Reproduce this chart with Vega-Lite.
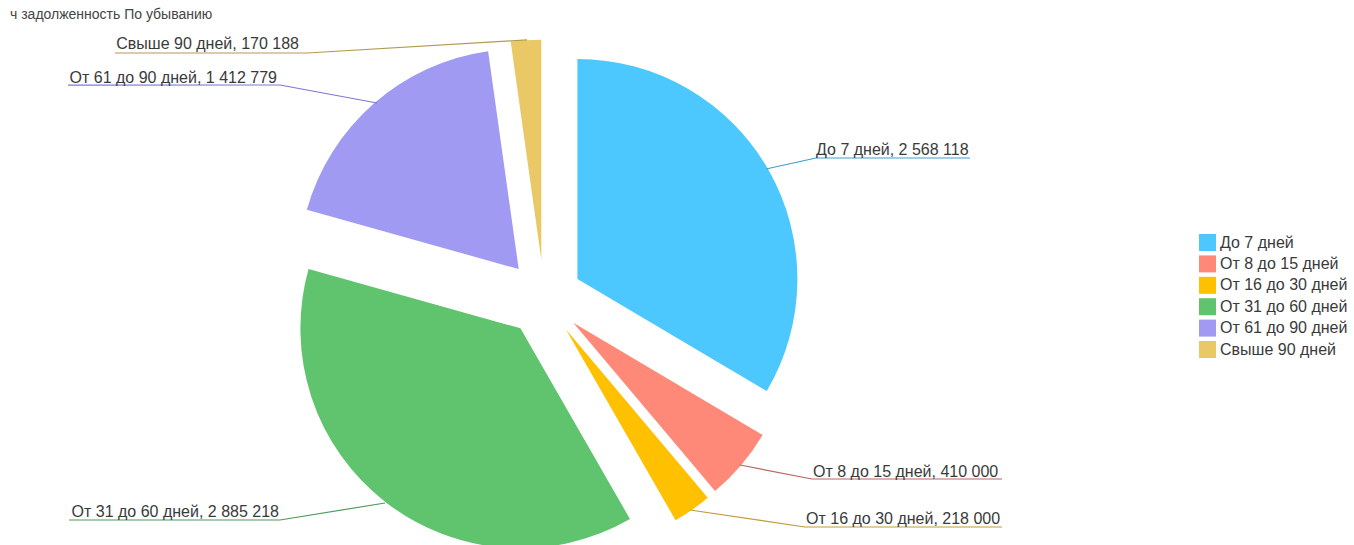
{
  "$schema": "https://vega.github.io/schema/vega-lite/v6.json",
  "autosize": {"type": "none"},
  "width": 1088,
  "height": 494,
  "padding": {"left": 0, "top": 51, "right": 266, "bottom": 0},
  "background": "#ffffff",
  "title": {"text": "ч задолженность По убыванию", "anchor": "start", "frame": "group", "orient": "top", "baseline": "alphabetic", "offset": 3, "dx": 10, "fontSize": 14, "fontWeight": "normal", "font": "Liberation Sans", "color": "#444444"},
  "data": {"values": [
    {"i": 1, "cat": "До 7 дней", "value": 2568118, "label": "До 7 дней, 2 568 118"},
    {"i": 2, "cat": "От 8 до 15 дней", "value": 410000, "label": "От 8 до 15 дней, 410 000"},
    {"i": 3, "cat": "От 16 до 30 дней", "value": 218000, "label": "От 16 до 30 дней, 218 000"},
    {"i": 4, "cat": "От 31 до 60 дней", "value": 2885218, "label": "От 31 до 60 дней, 2 885 218"},
    {"i": 5, "cat": "От 61 до 90 дней", "value": 1412779, "label": "От 61 до 90 дней, 1 412 779"},
    {"i": 6, "cat": "Свыше 90 дней", "value": 170188, "label": "Свыше 90 дней, 170 188"}
  ]},
  "transform": [{"stack": "value", "groupby": [], "sort": [{"field": "i", "order": "ascending"}], "as": ["v0", "v1"]}],
  "layer": [
    {
      "transform": [{"filter": "datum.i == 1"}],
      "mark": {"type": "arc", "radius": 220, "xOffset": 33.4, "yOffset": -19.0},
      "encoding": {
        "theta": {"field": "v0", "type": "quantitative"},
        "theta2": {"field": "v1"},
        "color": {"field": "cat", "type": "nominal", "scale": {"domain": ["До 7 дней", "От 8 до 15 дней", "От 16 до 30 дней", "От 31 до 60 дней", "От 61 до 90 дней", "Свыше 90 дней"], "range": ["#4DC8FE", "#FF8979", "#FFC000", "#60C36E", "#A09AF2", "#EAC866"]}, "legend": {"title": null, "orient": "none", "legendX": 1199, "legendY": 183, "padding": 0, "symbolType": "square", "symbolSize": 289, "symbolStrokeWidth": 0, "symbolOpacity": 1, "labelFontSize": 16, "labelFont": "Liberation Sans", "labelColor": "#3a3a3a", "labelOffset": 4, "rowPadding": 4.4}}
      }
    },
    {
      "transform": [{"filter": "datum.i == 2"}],
      "mark": {"type": "arc", "radius": 220, "xOffset": 29.3, "yOffset": 24.8},
      "encoding": {"theta": {"field": "v0", "type": "quantitative"}, "theta2": {"field": "v1"}, "color": {"field": "cat", "type": "nominal"}}
    },
    {
      "transform": [{"filter": "datum.i == 3"}],
      "mark": {"type": "arc", "radius": 220, "xOffset": 22.0, "yOffset": 31.5},
      "encoding": {"theta": {"field": "v0", "type": "quantitative"}, "theta2": {"field": "v1"}, "color": {"field": "cat", "type": "nominal"}}
    },
    {
      "transform": [{"filter": "datum.i == 4"}],
      "mark": {"type": "arc", "radius": 220, "xOffset": -23.6, "yOffset": 30.3},
      "encoding": {"theta": {"field": "v0", "type": "quantitative"}, "theta2": {"field": "v1"}, "color": {"field": "cat", "type": "nominal"}}
    },
    {
      "transform": [{"filter": "datum.i == 5"}],
      "mark": {"type": "arc", "radius": 220, "xOffset": -25.3, "yOffset": -28.9},
      "encoding": {"theta": {"field": "v0", "type": "quantitative"}, "theta2": {"field": "v1"}, "color": {"field": "cat", "type": "nominal"}}
    },
    {
      "transform": [{"filter": "datum.i == 6"}],
      "mark": {"type": "arc", "radius": 220, "xOffset": -2.7, "yOffset": -38.3},
      "encoding": {"theta": {"field": "v0", "type": "quantitative"}, "theta2": {"field": "v1"}, "color": {"field": "cat", "type": "nominal"}}
    },
    {
      "transform": [{"filter": "datum.i == 1"}],
      "mark": {"type": "arc", "filled": false, "stroke": "#3E9FCB", "strokeWidth": 1.2, "radius": 51.2, "radius2": 0, "thetaOffset": 2.3906, "theta2Offset": 2.3906, "xOffset": 272, "yOffset": -140},
      "encoding": {"theta": {"field": "v1", "type": "quantitative"}, "theta2": {"field": "v1"}}
    },
    {
      "transform": [{"filter": "datum.i == 1"}],
      "mark": {"type": "arc", "filled": false, "stroke": "#3E9FCB", "strokeWidth": 1.2, "radius": 154, "radius2": 0, "thetaOffset": -0.5346, "theta2Offset": -0.5346, "xOffset": 272, "yOffset": -140},
      "encoding": {"theta": {"field": "v1", "type": "quantitative"}, "theta2": {"field": "v1"}}
    },
    {
      "transform": [{"filter": "datum.i == 2"}],
      "mark": {"type": "arc", "filled": false, "stroke": "#B8665E", "strokeWidth": 1.2, "radius": 73.3, "radius2": 0, "thetaOffset": 2.4628, "theta2Offset": 2.4628, "xOffset": 268, "yOffset": 181},
      "encoding": {"theta": {"field": "v1", "type": "quantitative"}, "theta2": {"field": "v1"}}
    },
    {
      "transform": [{"filter": "datum.i == 2"}],
      "mark": {"type": "arc", "filled": false, "stroke": "#B8665E", "strokeWidth": 1.2, "radius": 190, "radius2": 0, "thetaOffset": -0.8707, "theta2Offset": -0.8707, "xOffset": 268, "yOffset": 181},
      "encoding": {"theta": {"field": "v1", "type": "quantitative"}, "theta2": {"field": "v1"}}
    },
    {
      "transform": [{"filter": "datum.i == 3"}],
      "mark": {"type": "arc", "filled": false, "stroke": "#C29A3E", "strokeWidth": 1.2, "radius": 116.2, "radius2": 0, "thetaOffset": 2.2388, "theta2Offset": 2.2388, "xOffset": 261, "yOffset": 229},
      "encoding": {"theta": {"field": "v1", "type": "quantitative"}, "theta2": {"field": "v1"}}
    },
    {
      "transform": [{"filter": "datum.i == 3"}],
      "mark": {"type": "arc", "filled": false, "stroke": "#C29A3E", "strokeWidth": 1.2, "radius": 197, "radius2": 0, "thetaOffset": -1.0495, "theta2Offset": -1.0495, "xOffset": 261, "yOffset": 229},
      "encoding": {"theta": {"field": "v1", "type": "quantitative"}, "theta2": {"field": "v1"}}
    },
    {
      "transform": [{"filter": "datum.i == 4"}],
      "mark": {"type": "arc", "filled": false, "stroke": "#4E9A5A", "strokeWidth": 1.2, "radius": 106.4, "radius2": 0, "thetaOffset": -3.5753, "theta2Offset": -3.5753, "xOffset": -264, "yOffset": 222},
      "encoding": {"theta": {"field": "v1", "type": "quantitative"}, "theta2": {"field": "v1"}}
    },
    {
      "transform": [{"filter": "datum.i == 4"}],
      "mark": {"type": "arc", "filled": false, "stroke": "#4E9A5A", "strokeWidth": 1.2, "radius": 211, "radius2": 0, "thetaOffset": -0.2731, "theta2Offset": -0.2731, "xOffset": -264, "yOffset": 222},
      "encoding": {"theta": {"field": "v1", "type": "quantitative"}, "theta2": {"field": "v1"}}
    },
    {
      "transform": [{"filter": "datum.i == 5"}],
      "mark": {"type": "arc", "filled": false, "stroke": "#7C78D6", "strokeWidth": 1.2, "radius": 98.7, "radius2": 0, "thetaOffset": -4.3897, "theta2Offset": -4.3897, "xOffset": -264, "yOffset": -213},
      "encoding": {"theta": {"field": "v1", "type": "quantitative"}, "theta2": {"field": "v1"}}
    },
    {
      "transform": [{"filter": "datum.i == 5"}],
      "mark": {"type": "arc", "filled": false, "stroke": "#7C78D6", "strokeWidth": 1.2, "radius": 212, "radius2": 0, "thetaOffset": -1.4314, "theta2Offset": -1.4314, "xOffset": -264, "yOffset": -213},
      "encoding": {"theta": {"field": "v1", "type": "quantitative"}, "theta2": {"field": "v1"}}
    },
    {
      "transform": [{"filter": "datum.i == 6"}],
      "mark": {"type": "arc", "filled": false, "stroke": "#B39A4E", "strokeWidth": 1.2, "radius": 220.4, "radius2": 0, "thetaOffset": -4.7717, "theta2Offset": -4.7717, "xOffset": -237, "yOffset": -245},
      "encoding": {"theta": {"field": "v1", "type": "quantitative"}, "theta2": {"field": "v1"}}
    },
    {
      "transform": [{"filter": "datum.i == 6"}],
      "mark": {"type": "arc", "filled": false, "stroke": "#B39A4E", "strokeWidth": 1.2, "radius": 192, "radius2": 0, "thetaOffset": -1.5708, "theta2Offset": -1.5708, "xOffset": -237, "yOffset": -245},
      "encoding": {"theta": {"field": "v1", "type": "quantitative"}, "theta2": {"field": "v1"}}
    },
    {
      "transform": [{"filter": "datum.i == 1"}],
      "mark": {"type": "text", "radius": 240, "align": "left", "baseline": "middle", "dx": 65.5, "dy": -270.3, "fontSize": 16, "font": "Liberation Sans", "color": "#3a3a3a"},
      "encoding": {"theta": {"field": "v1", "type": "quantitative"}, "text": {"field": "label"}}
    },
    {
      "transform": [{"filter": "datum.i == 2"}],
      "mark": {"type": "text", "radius": 240, "align": "left", "baseline": "middle", "dx": 114.4, "dy": -9.6, "fontSize": 16, "font": "Liberation Sans", "color": "#3a3a3a"},
      "encoding": {"theta": {"field": "v1", "type": "quantitative"}, "text": {"field": "label"}}
    },
    {
      "transform": [{"filter": "datum.i == 3"}],
      "mark": {"type": "text", "radius": 240, "align": "left", "baseline": "middle", "dx": 142.5, "dy": 12.9, "fontSize": 16, "font": "Liberation Sans", "color": "#3a3a3a"},
      "encoding": {"theta": {"field": "v1", "type": "quantitative"}, "text": {"field": "label"}}
    },
    {
      "transform": [{"filter": "datum.i == 4"}],
      "mark": {"type": "text", "radius": 240, "align": "right", "baseline": "middle", "dx": -33.9, "dy": 278.7, "fontSize": 16, "font": "Liberation Sans", "color": "#3a3a3a"},
      "encoding": {"theta": {"field": "v1", "type": "quantitative"}, "text": {"field": "label"}}
    },
    {
      "transform": [{"filter": "datum.i == 5"}],
      "mark": {"type": "text", "radius": 240, "align": "right", "baseline": "middle", "dx": -233.6, "dy": 17.7, "fontSize": 16, "font": "Liberation Sans", "color": "#3a3a3a"},
      "encoding": {"theta": {"field": "v1", "type": "quantitative"}, "text": {"field": "label"}}
    },
    {
      "transform": [{"filter": "datum.i == 6"}],
      "mark": {"type": "text", "radius": 240, "align": "right", "baseline": "middle", "dx": -245, "dy": -14, "fontSize": 16, "font": "Liberation Sans", "color": "#3a3a3a"},
      "encoding": {"theta": {"field": "v1", "type": "quantitative"}, "text": {"field": "label"}}
    }
  ],
  "config": {"view": {"stroke": null}}
}
